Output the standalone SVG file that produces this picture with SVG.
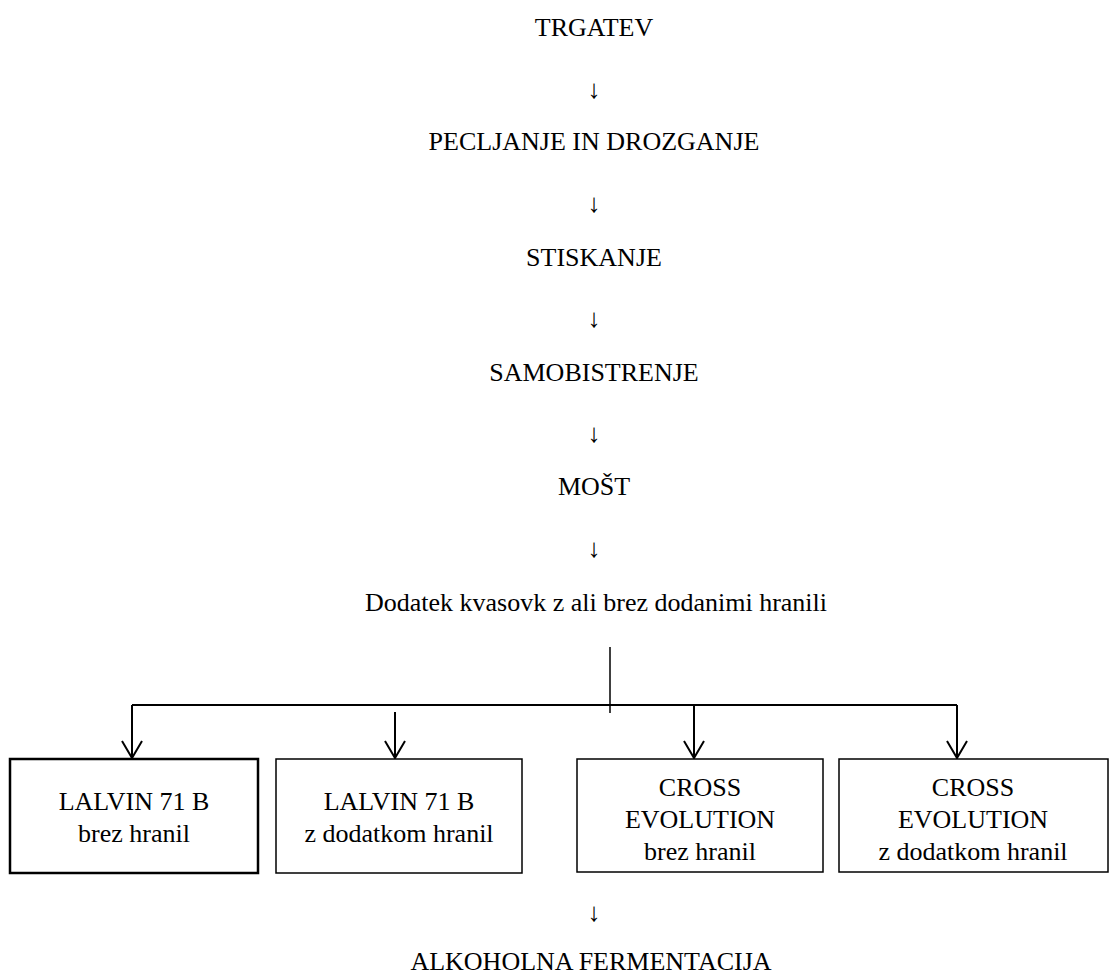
<svg xmlns="http://www.w3.org/2000/svg" width="1115" height="976" viewBox="0 0 1115 976" font-family="'Liberation Serif', 'Times New Roman', Tinos, 'DejaVu Serif', serif">
<defs>
<style>
text{font-family:'Liberation Serif','Times New Roman',Tinos,'DejaVu Serif',serif;font-size:26px;fill:#000;text-anchor:middle}
.box{fill:#fff;stroke:#000;stroke-width:1.5}
.box1{fill:#fff;stroke:#000;stroke-width:2.5}
.ln{stroke:#000;stroke-width:2;fill:none}
.ah{stroke:#000;stroke-width:2;fill:none;stroke-linejoin:miter}
</style>
</defs>
<rect width="1115" height="976" fill="#fff"/>
<g id="steps">
<text x="594" y="36">TRGATEV</text>
<text x="594" y="98">↓</text>
<text x="594" y="150">PECLJANJE IN DROZGANJE</text>
<text x="594" y="212">↓</text>
<text x="594" y="266">STISKANJE</text>
<text x="594" y="327">↓</text>
<text x="594" y="381">SAMOBISTRENJE</text>
<text x="594" y="442">↓</text>
<text x="594" y="495">MOŠT</text>
<text x="594" y="557">↓</text>
<text x="596" y="611">Dodatek kvasovk z ali brez dodanimi hranili</text>
</g>
<g id="connectors">
<line class="ln" x1="610" y1="647" x2="610" y2="713" style="stroke-width:1.5"/>
<line class="ln" x1="132" y1="705" x2="957" y2="705"/>
<line class="ln" x1="132" y1="705" x2="132" y2="758"/>
<line class="ln" x1="395" y1="712" x2="395" y2="758"/>
<line class="ln" x1="694" y1="705" x2="694" y2="758"/>
<line class="ln" x1="957" y1="705" x2="957" y2="758"/>
<polyline class="ah" points="122,741 132,758 142,741"/>
<polyline class="ah" points="385,741 395,758 405,741"/>
<polyline class="ah" points="684,741 694,758 704,741"/>
<polyline class="ah" points="947,741 957,758 967,741"/>
</g>
<g id="node1">
<rect class="box1" x="10" y="759" width="248" height="114"/>
<text x="134" y="810">LALVIN 71 B</text>
<text x="134" y="842">brez hranil</text>
</g>
<g id="node2">
<rect class="box" x="276" y="759" width="246" height="114"/>
<text x="399" y="810">LALVIN 71 B</text>
<text x="399" y="842">z dodatkom hranil</text>
</g>
<g id="node3">
<rect class="box" x="577" y="759" width="246" height="113"/>
<text x="700" y="796">CROSS</text>
<text x="700" y="828">EVOLUTION</text>
<text x="700" y="860">brez hranil</text>
</g>
<g id="node4">
<rect class="box" x="839" y="759" width="269" height="113"/>
<text x="973" y="796">CROSS</text>
<text x="973" y="828">EVOLUTION</text>
<text x="973" y="860">z dodatkom hranil</text>
</g>
<g id="final">
<text x="594" y="921">↓</text>
<text x="591" y="970">ALKOHOLNA FERMENTACIJA</text>
</g>
</svg>
